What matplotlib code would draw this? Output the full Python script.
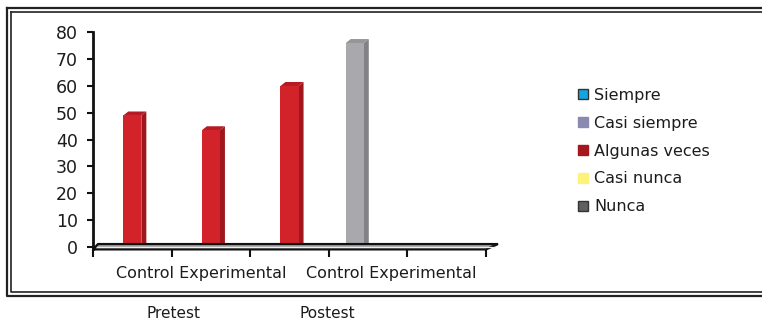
import numpy as np
import matplotlib
matplotlib.use("Agg")
import matplotlib.pyplot as plt
from matplotlib.patches import Polygon
from matplotlib.lines import Line2D

# five category slots on the x axis, the last one is empty
categories = ["", "", "", "", ""]
group_labels = ["Control Experimental", "Control Experimental"]
group_label_pos = [0.88, 3.3]
phase_labels = ["Pretest", "Postest"]
phase_label_px = [174, 327]

series_names = ["Siempre", "Casi siempre", "Algunas veces", "Casi nunca", "Nunca"]
siempre = [0, 0, 0, 0, 0]
casi_siempre = [0, 0, 0, 76, 0]
algunas_veces = [49, 43.5, 60, 0, 0]
casi_nunca = [0, 0, 0, 0, 0]
nunca = [0, 0, 0, 0, 0]
series = [siempre, casi_siempre, algunas_veces, casi_nunca, nunca]

legend_colors = ["#12a6e0", "#8a89b0", "#a3171d", "#fff27a", "#606060"]
# front / side / top colours for the 3d look of each series
face_colors = {
    1: ("#a9a9ad", "#828286", "#96969a"),
    2: ("#d2232b", "#a0161c", "#b51b22"),
}

W, H = 762, 321
fig = plt.figure(figsize=(W / 100, H / 100), dpi=100)
plt.rcParams['font.family'] = 'DejaVu Sans'
txt = "#1c1c1c"

# plot area in pixels
x0, x1 = 93, 486
y0, y80 = 247, 32.3
ax = fig.add_axes([x0 / W, 1 - y0 / H, (x1 - x0) / W, (y0 - y80) / H])
ax.set_xlim(-0.5, 4.5)
ax.set_ylim(0, 80)
for s in ax.spines.values():
    s.set_visible(False)
ax.patch.set_visible(False)

px_x = (x1 - x0) / 5.0
px_y = (y0 - y80) / 80.0
dx = 5 / px_x
dy = 4 / px_y

slot = 0.17
bw = 0.23
x = np.arange(len(categories))
for k, vals in enumerate(series):
    if k not in face_colors:
        continue
    front, side, top = face_colors[k]
    xs = x + (k - 2) * slot
    for xi, v in zip(xs, vals):
        if v <= 0:
            continue
        l, r = xi - bw / 2, xi + bw / 2
        ax.add_patch(Polygon([(r, 0), (r + dx, dy), (r + dx, v + dy), (r, v)],
                             closed=True, facecolor=side, edgecolor="none", zorder=3))
        ax.add_patch(Polygon([(l, v), (r, v), (r + dx, v + dy), (l + dx, v + dy)],
                             closed=True, facecolor=top, edgecolor="none", zorder=3))
    ax.bar(xs, vals, width=bw, color=front, edgecolor="none", zorder=4)

# floor slab in front of the bar feet
fl = [(-0.5, -0.9), (4.5, -0.9), (4.5 + 2.4 * dx, 1.1), (-0.5 + dx, 1.1)]
ax.add_patch(Polygon(fl, closed=True, facecolor="#a8a8a8", edgecolor="#111111",
                     lw=1.6, zorder=6, clip_on=False))
ax.plot([-0.45, 4.6], [0.0, 0.0], color="#eeeeee", lw=0.9, zorder=7, clip_on=False)

# y axis line and ticks
ax.plot([-0.5, -0.5], [-0.9, 80], color="#111111", lw=2, clip_on=False, zorder=8)
ax.set_yticks(np.arange(0, 81, 10))
ax.tick_params(axis="y", length=4, width=1.5, color="#111111", labelsize=12.5,
               labelcolor=txt, pad=7)
ax.set_xticks(np.arange(-0.5, 4.6, 1))
ax.set_xticklabels([])
ax.tick_params(axis="x", length=6, width=1.5, color="#111111", pad=0)
ax.spines["bottom"].set_position(("data", -0.9))

for lab, pos in zip(group_labels, group_label_pos):
    ax.text(pos, -10, lab, ha="center", va="center", fontsize=11.5, color=txt)

for lab, px in zip(phase_labels, phase_label_px):
    fig.text(px / W, 1 - 313 / H, lab, ha="center", va="center", fontsize=11, color=txt)

# double frame round the chart
for inset, lw in [(0, 1.6), (4, 1.2)]:
    l = (7 + inset) / W
    b = 1 - (296 - inset) / H
    t = 1 - (8 + inset) / H
    fig.add_artist(Line2D([l, 1.2], [t, t], color="#222222", lw=lw))
    fig.add_artist(Line2D([l, l, 1.2], [t, b, b], color="#222222", lw=lw))

# legend
handles = [Line2D([], [], marker="s", linestyle="none", markersize=7,
                  markerfacecolor=c, markeredgecolor="#333333" if c in ("#12a6e0", "#606060") else c,
                  markeredgewidth=1.0)
           for c in legend_colors]
fig.legend(handles, series_names, loc="upper left",
           bbox_to_anchor=(578 / W, 1 - 88 / H), frameon=False, fontsize=11.5,
           handlelength=0.6, handletextpad=0.4, labelspacing=0.8, labelcolor=txt,
           borderaxespad=0, borderpad=0)

fig.savefig("out.png", dpi=100)
